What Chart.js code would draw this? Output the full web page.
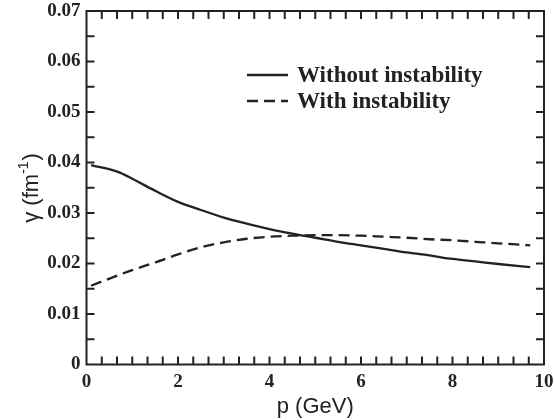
<!DOCTYPE html>
<html>
<head>
<meta charset="utf-8">
<script src="https://cdn.jsdelivr.net/npm/chart.js@4.4.1/dist/chart.umd.min.js"></script>
<style>
html,body{margin:0;padding:0;background:#fff;}
</style>
</head>
<body>
<canvas id="grafico" width="554" height="420"></canvas>
<script>
// p (GeV) de cada punto
const momentos = [0.1, 0.7, 1.0, 1.5, 2.0, 2.5, 3.0, 3.5, 4.0, 4.5, 5.0, 5.5, 6.0, 6.5, 7.0, 7.5, 8.0, 8.5, 9.0, 9.7];
// gamma (fm^-1)
const sinInestabilidad = [0.0395, 0.0381, 0.0368, 0.0344, 0.0322, 0.0306, 0.0291, 0.0279, 0.0268, 0.0259, 0.0251, 0.0243, 0.0236, 0.0229, 0.0222, 0.0216, 0.0209, 0.0204, 0.0199, 0.0193];
const conInestabilidad = [0.0156, 0.0177, 0.0187, 0.0202, 0.0218, 0.0232, 0.0242, 0.0249, 0.0253, 0.0255, 0.0256, 0.0256, 0.0255, 0.0253, 0.0251, 0.0248, 0.0246, 0.0243, 0.0240, 0.0236];
const etiquetas = ['Without instability', 'With instability'];
const ticksX = [0, 2, 4, 6, 8, 10];
const ticksY = [0, 0.01, 0.02, 0.03, 0.04, 0.05, 0.06, 0.07];

const fuenteTicks = {family: '"Liberation Serif", "Times New Roman", serif', size: 19, weight: 'bold'};
const fuenteSans = '"Liberation Sans", Arial, sans-serif';
const colorEje = '#222';

function puntos(valores){
    return momentos.map((p, i) => ({x: p, y: valores[i]}));
}

// marco con ticks hacia adentro, titulo del eje y y leyenda dentro del area
const marco = {
    id: 'marco',
    afterDraw(chart){
        const ctx = chart.ctx;
        const a = chart.chartArea;
        const ex = chart.scales.x;
        const ey = chart.scales.y;
        ctx.save();
        ctx.strokeStyle = colorEje;
        ctx.lineWidth = 2;
        ctx.strokeRect(a.left, a.top, a.right - a.left, a.bottom - a.top);
        ctx.beginPath();
        for (let k = 1; k < 30; k++){
            const px = ex.getPixelForValue(k / 3);
            ctx.moveTo(px, a.bottom); ctx.lineTo(px, a.bottom - 8);
            ctx.moveTo(px, a.top); ctx.lineTo(px, a.top + 8);
        }
        for (let k = 1; k < 14; k++){
            const py = ey.getPixelForValue(k * 0.005);
            ctx.moveTo(a.left, py); ctx.lineTo(a.left + 8, py);
            ctx.moveTo(a.right, py); ctx.lineTo(a.right - 8, py);
        }
        ctx.stroke();

        // titulo eje y con superindice
        ctx.save();
        ctx.fillStyle = colorEje;
        ctx.textBaseline = 'alphabetic';
        ctx.translate(37.5, (a.top + a.bottom) / 2 + 35);
        ctx.rotate(-Math.PI / 2);
        ctx.font = '22px ' + fuenteSans;
        const t1 = 'γ (fm';
        ctx.fillText(t1, 0, 0);
        let w = ctx.measureText(t1).width;
        ctx.font = '14px ' + fuenteSans;
        ctx.fillText('-1', w, -10);
        w += ctx.measureText('-1').width;
        ctx.font = '22px ' + fuenteSans;
        ctx.fillText(')', w + 1, 0);
        ctx.restore();

        ctx.font = 'bold 23px "Liberation Serif", "Times New Roman", serif';
        ctx.fillStyle = colorEje;
        ctx.textBaseline = 'middle';
        chart.data.datasets.forEach((ds, i) => {
            const yy = 75 + i * 26;
            ctx.beginPath();
            ctx.lineWidth = ds.borderWidth;
            ctx.setLineDash(ds.borderDash || []);
            ctx.moveTo(247, yy); ctx.lineTo(288, yy);
            ctx.stroke();
            ctx.setLineDash([]);
            ctx.fillText(ds.label, 297, yy + 1);
        });
        ctx.restore();
    }
};

const grafico = new Chart(document.getElementById('grafico'), {
    type: 'line',
    data: {
        datasets: [{
            label: etiquetas[0],
            data: puntos(sinInestabilidad),
            borderColor: colorEje,
            borderWidth: 2.3,
            pointRadius: 0,
            cubicInterpolationMode: 'monotone',
            fill: false
        }, {
            label: etiquetas[1],
            data: puntos(conInestabilidad),
            borderColor: colorEje,
            borderWidth: 2.3,
            borderDash: [11, 6],
            pointRadius: 0,
            cubicInterpolationMode: 'monotone',
            fill: false
        }]
    },
    options: {
        responsive: false,
        animation: false,
        devicePixelRatio: 1,
        layout: {padding: {top: 11, right: 10, left: 0, bottom: 0}},
        plugins: {legend: {display: false}, tooltip: {enabled: false}},
        scales: {
            x: {
                type: 'linear',
                min: ticksX[0],
                max: ticksX[ticksX.length - 1],
                afterBuildTicks: s => { s.ticks = ticksX.map(v => ({value: v})); },
                afterFit: s => { s.height = 55.5; s.paddingLeft = 0; s.paddingRight = 0; },
                grid: {display: false, drawTicks: false},
                border: {display: false},
                ticks: {
                    font: fuenteTicks,
                    color: colorEje,
                    padding: 6,
                    maxRotation: 0,
                    callback: v => String(v)
                },
                title: {
                    display: true,
                    text: 'p (GeV)',
                    color: colorEje,
                    font: {family: fuenteSans, size: 22},
                    padding: {top: 0, bottom: 0}
                }
            },
            y: {
                min: ticksY[0],
                max: ticksY[ticksY.length - 1],
                afterBuildTicks: s => { s.ticks = ticksY.map(v => ({value: v})); },
                afterFit: s => { s.width = 86.5; s.paddingTop = 0; s.paddingBottom = 0; },
                grid: {display: false, drawTicks: false},
                border: {display: false},
                ticks: {
                    font: fuenteTicks,
                    color: colorEje,
                    padding: 6,
                    callback: v => v === 0 ? '0' : v.toFixed(2)
                }
            }
        }
    },
    plugins: [marco]
});
</script>
</body>
</html>
